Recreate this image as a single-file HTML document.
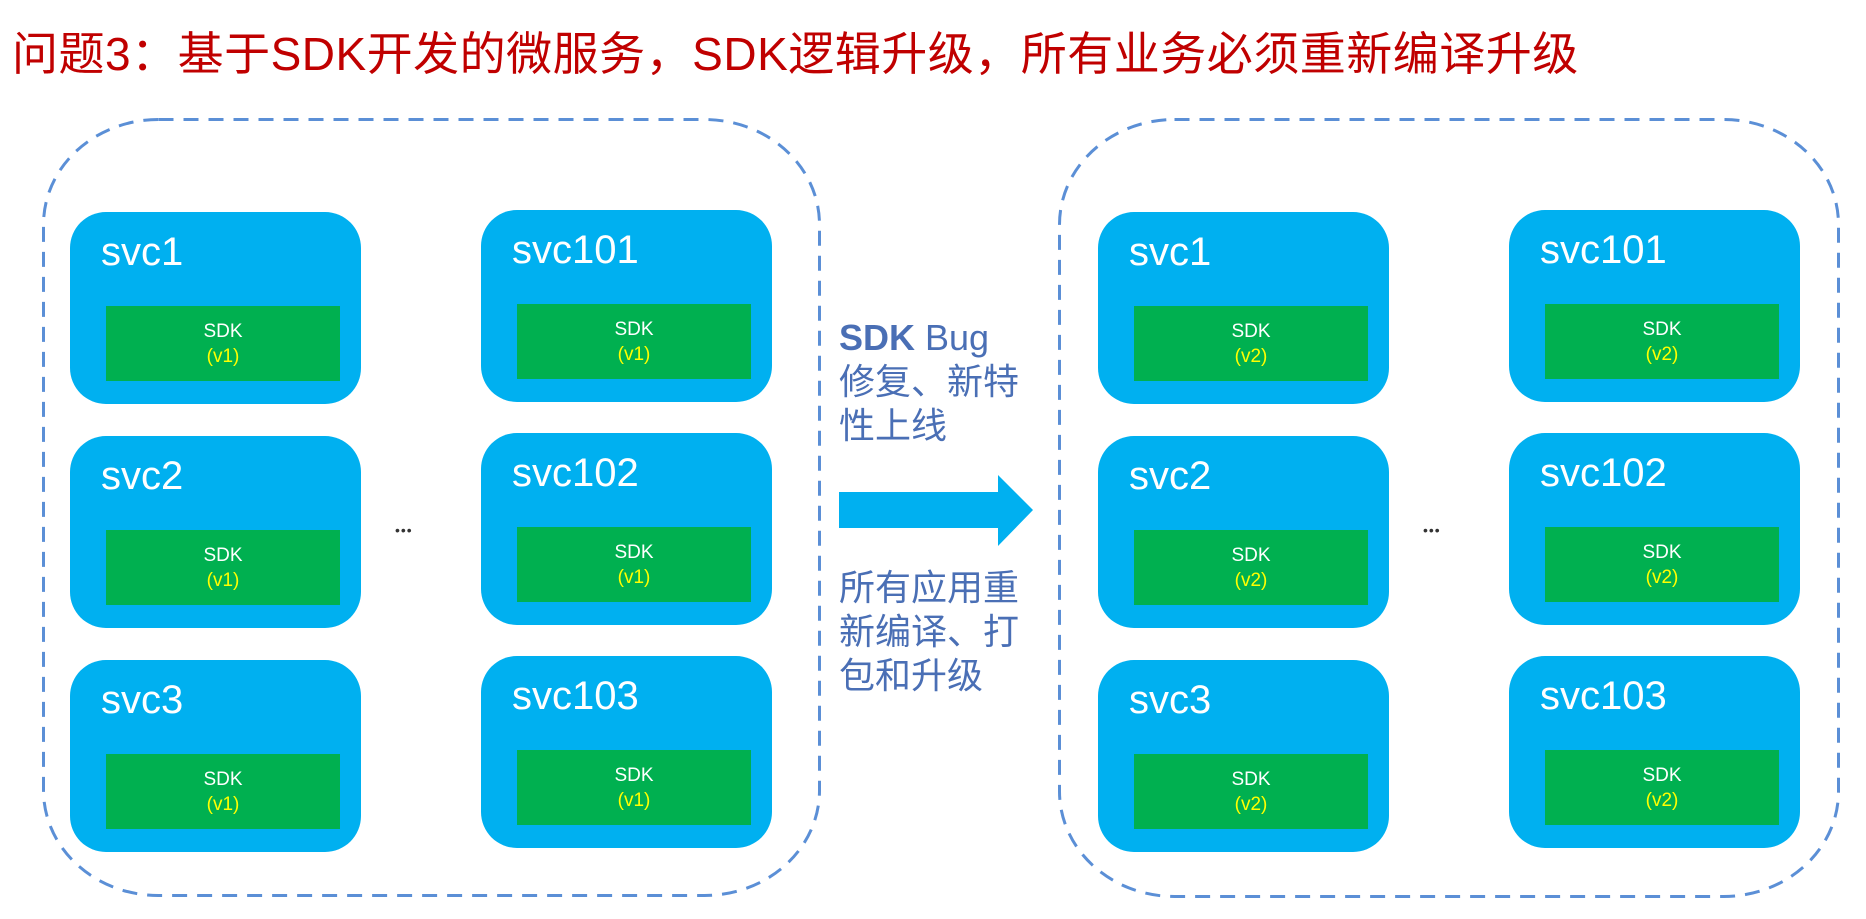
<!DOCTYPE html>
<html><head><meta charset="utf-8"><style>
html,body{margin:0;padding:0;background:#fff;}
body{width:1866px;height:919px;position:relative;overflow:hidden;font-family:"Liberation Sans","Noto Sans CJK SC",sans-serif;}
.title{position:absolute;left:12px;top:22px;font-size:46px;color:#c00000;white-space:nowrap;line-height:64px;letter-spacing:0.5px;}
.svc{position:absolute;width:291px;height:192px;background:#00b0f0;border-radius:36px;}
.svc .n{position:absolute;left:31px;top:16px;font-size:40px;color:#fff;line-height:48px;}
.svc .g{position:absolute;left:36px;top:94px;width:234px;height:75px;background:#00b050;display:flex;flex-direction:column;align-items:center;justify-content:center;font-size:19px;line-height:25px;color:#fff;}
.svc .g span{color:#ffff00;}
.mid{position:absolute;left:839px;font-size:36px;line-height:44px;color:#4a6fb5;}
.dots{position:absolute;font-size:14px;color:#333;letter-spacing:1px;}
</style></head><body>
<div class="title">问题3：基于SDK开发的微服务，SDK逻辑升级，所有业务必须重新编译升级</div>

<svg style="position:absolute;left:0;top:0" width="1866" height="919">
<rect x="43.5" y="119.5" width="776" height="776" rx="115" ry="105" fill="none" stroke="#5b8fd6" stroke-width="3" stroke-dasharray="15 10"/>
<rect x="1059.5" y="119.5" width="779" height="777" rx="115" ry="105" fill="none" stroke="#5b8fd6" stroke-width="3" stroke-dasharray="15 10"/>
<polygon points="839,492 998,492 998,475 1033,510 998,546 998,528 839,528" fill="#00b0f0"/>
</svg>

<div class="svc" style="left:70px;top:212px;"><div class="n">svc1</div><div class="g">SDK<span>(v1)</span></div></div>
<div class="svc" style="left:70px;top:436px;"><div class="n">svc2</div><div class="g">SDK<span>(v1)</span></div></div>
<div class="svc" style="left:70px;top:660px;"><div class="n">svc3</div><div class="g">SDK<span>(v1)</span></div></div>
<div class="svc" style="left:481px;top:210px;"><div class="n">svc101</div><div class="g">SDK<span>(v1)</span></div></div>
<div class="svc" style="left:481px;top:433px;"><div class="n">svc102</div><div class="g">SDK<span>(v1)</span></div></div>
<div class="svc" style="left:481px;top:656px;"><div class="n">svc103</div><div class="g">SDK<span>(v1)</span></div></div>

<div class="svc" style="left:1098px;top:212px;"><div class="n">svc1</div><div class="g">SDK<span>(v2)</span></div></div>
<div class="svc" style="left:1098px;top:436px;"><div class="n">svc2</div><div class="g">SDK<span>(v2)</span></div></div>
<div class="svc" style="left:1098px;top:660px;"><div class="n">svc3</div><div class="g">SDK<span>(v2)</span></div></div>
<div class="svc" style="left:1509px;top:210px;"><div class="n">svc101</div><div class="g">SDK<span>(v2)</span></div></div>
<div class="svc" style="left:1509px;top:433px;"><div class="n">svc102</div><div class="g">SDK<span>(v2)</span></div></div>
<div class="svc" style="left:1509px;top:656px;"><div class="n">svc103</div><div class="g">SDK<span>(v2)</span></div></div>

<div class="dots" style="left:395px;top:522px;">•••</div>
<div class="dots" style="left:1423px;top:522px;">•••</div>

<div class="mid" style="top:316px;"><b>SDK</b> Bug<br>修复、新特<br>性上线</div>
<div class="mid" style="top:566px;">所有应用重<br>新编译、打<br>包和升级</div>
</body></html>
